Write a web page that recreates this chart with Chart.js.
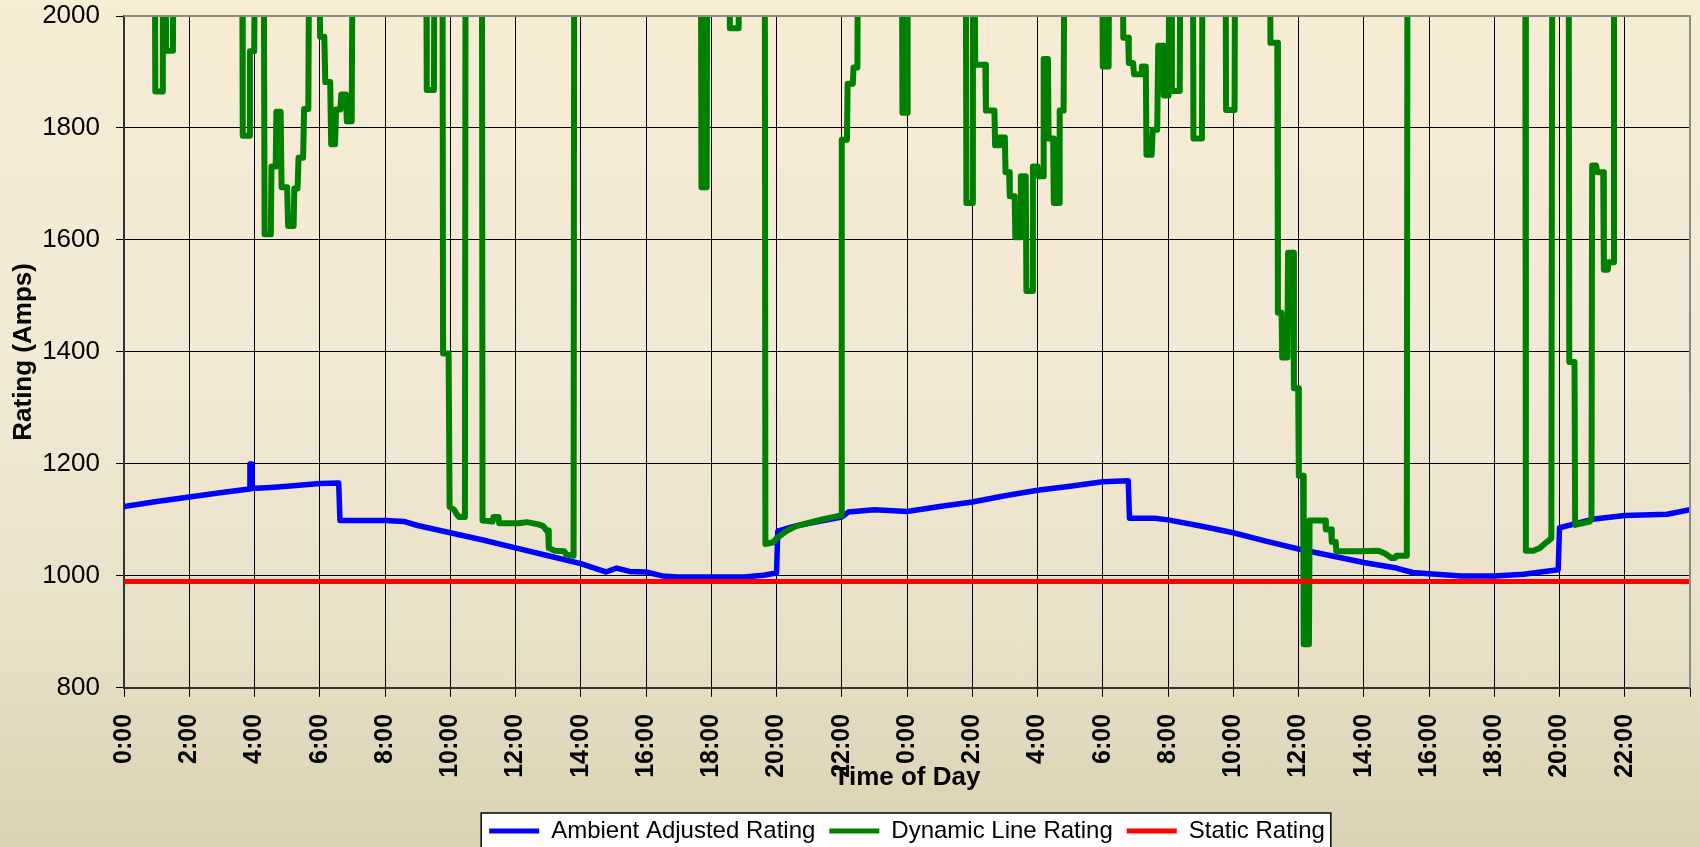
<!DOCTYPE html>
<html>
<head>
<meta charset="utf-8">
<script src="https://cdn.jsdelivr.net/npm/chart.js@4.4.1/dist/chart.umd.min.js"></script>
<style>
  body { margin: 0; }
  #wrap {
    width: 1700px; height: 847px; position: relative;
    background: linear-gradient(to bottom, #f7ecd4 0%, #f2e9d5 45%, #e9e0c8 75%, #dbd1b3 100%);
  }
</style>
</head>
<body>
<div id="wrap"><canvas id="rating_chart"></canvas></div>
<script>
// hours from the start of the first day; 2200 = off the top of the chart
const ambientHours = [0, 1, 2, 3, 3.84, 3.86, 3.9, 3.92, 4.5, 5, 6, 6.58, 6.62, 7.5, 8, 8.6, 9, 10, 11, 12, 13, 14, 14.77, 15.1, 15.5, 16, 16.5, 17, 18, 19, 19.6, 20, 20.04, 20.5, 21, 22, 22.2, 23, 24,
    25, 26, 27, 28, 29, 30, 30.78, 30.82, 31.6, 32, 33, 34, 35, 36, 37, 38, 39, 39.5, 40, 41, 42, 42.9, 43.96, 44, 45, 46, 47.3, 48];
const ambientAmps = [1124, 1133, 1141, 1149, 1155, 1200, 1200, 1156, 1158, 1160, 1165, 1166, 1099, 1099, 1099, 1097, 1090, 1077, 1064, 1050, 1036, 1022, 1007, 1014, 1008, 1007, 1000, 998, 998, 998, 1001, 1005, 1080, 1088, 1094, 1105, 1114, 1118, 1115,
    1124, 1132, 1143, 1153, 1160, 1168, 1170, 1103, 1103, 1100, 1089, 1077, 1062, 1048, 1036, 1024, 1014, 1006, 1004, 1000, 1000, 1003, 1011, 1086, 1101, 1108, 1110, 1118];

const dynamicHours = [0, 0.94, 0.96, 1.17, 1.19, 1.27, 1.29, 1.5, 1.52, 3.62, 3.64, 3.84, 3.86, 3.99, 4.02, 4.28, 4.31, 4.5, 4.52, 4.65, 4.67, 4.8, 4.83, 5, 5.03, 5.2, 5.22, 5.32, 5.35, 5.49, 5.52, 5.65, 5.68,
    5.98, 6.01, 6.14, 6.17, 6.32, 6.35, 6.47, 6.5, 6.63, 6.66, 6.8, 6.83, 6.98, 7.01, 9.26, 9.28, 9.5, 9.52, 9.76, 9.78, 9.95, 9.98, 10.12, 10.2, 10.27, 10.45, 10.47,
    10.97, 10.99, 11.3, 11.32, 11.48, 11.5, 12.1, 12.35, 12.7, 12.85, 12.95, 13, 13.02, 13.2, 13.5, 13.55, 13.78, 13.8, 17.68, 17.7, 17.86, 17.88, 18.55, 18.57, 18.84, 18.86,
    19.64, 19.66, 19.9, 20, 20.3, 20.6, 20.95, 21.4, 21.98, 22, 22.16, 22.18, 22.34, 22.36, 22.48, 22.5, 23.84, 23.86, 24, 24.02,
    25.8, 25.82, 26, 26.02, 26.07, 26.09, 26.4, 26.42, 26.68, 26.7, 26.82, 26.84, 27, 27.02, 27.13, 27.15, 27.3, 27.32, 27.47, 27.49, 27.64, 27.66, 27.84, 27.86, 28, 28.02, 28.17, 28.19, 28.32, 28.34, 28.48, 28.5, 28.66, 28.68, 28.8, 28.83,
    29.98, 30, 30.18, 30.2, 30.6, 30.63, 30.78, 30.8, 30.93, 30.96, 31.18, 31.2, 31.32, 31.34, 31.5, 31.53, 31.67, 31.7, 31.85, 31.87, 32.02, 32.04,
    32.1, 32.12, 32.36, 32.38, 32.76, 32.78, 33.04, 33.06, 33.76, 33.78, 34.04, 34.06,
    35.12, 35.14, 35.35, 35.37, 35.48, 35.5, 35.66, 35.68, 35.84, 35.86, 35.99, 36.01, 36.14, 36.16, 36.32, 36.34, 36.82, 36.84, 37, 37.02, 37.14, 37.16, 37.9, 38.45, 38.65, 38.85, 38.96, 39, 39.32, 39.34,
    42.95, 42.97, 43.2, 43.4, 43.6, 43.75, 43.78, 44.28, 44.3, 44.46, 44.48, 44.93, 44.98, 45, 45.12, 45.16, 45.34, 45.36, 45.48, 45.5, 45.64, 45.67, 48];
const dynamicAmps = [2200, 2200, 1865, 1865, 2200, 2200, 1938, 1938, 2200, 2200, 1786, 1786, 1937, 1937, 2200, 2200, 1610, 1610, 1731, 1731, 1829, 1829, 1694, 1694, 1625, 1625, 1692, 1692, 1747, 1747, 1834, 1834, 2200,
    2200, 1963, 1963, 1882, 1882, 1771, 1771, 1833, 1833, 1860, 1860, 1812, 1812, 2200, 2200, 1868, 1868, 2200, 2200, 1397, 1397, 1123, 1118, 1110, 1105, 1105, 2200,
    2200, 1099, 1097, 1105, 1105, 1094, 1094, 1096, 1092, 1089, 1081, 1081, 1050, 1045, 1044, 1038, 1036, 2200, 2200, 1694, 1694, 2200, 2200, 1978, 1978, 2200,
    2200, 1057, 1060, 1067, 1080, 1089, 1094, 1101, 1108, 1779, 1779, 1879, 1879, 1908, 1908, 2200, 2200, 1827, 1827, 2200,
    2200, 1666, 1666, 2200, 2200, 1913, 1913, 1831, 1831, 1769, 1769, 1783, 1783, 1721, 1721, 1678, 1678, 1605, 1605, 1714, 1714, 1509, 1509, 1731, 1731, 1714, 1714, 1923, 1923, 1781, 1781, 1666, 1666, 1831, 1831, 2200,
    2200, 1910, 1910, 2200, 2200, 1961, 1961, 1916, 1916, 1896, 1896, 1910, 1910, 1752, 1752, 1797, 1797, 1947, 1947, 1858, 1858, 2200,
    2200, 1866, 1866, 2200, 2200, 1781, 1781, 2200, 2200, 1832, 1832, 2200,
    2200, 1952, 1952, 1470, 1470, 1390, 1390, 1577, 1577, 1335, 1335, 1179, 1179, 878, 878, 1099, 1099, 1083, 1083, 1061, 1061, 1044, 1044, 1045, 1040, 1032, 1032, 1036, 1036, 2200,
    2200, 1045, 1045, 1050, 1060, 1067, 2200, 2200, 1382, 1382, 1091, 1097, 1101, 1733, 1733, 1721, 1721, 1547, 1547, 1560, 1560, 2200, 2200];

const staticHours = [0, 48];
const staticAmps = [990, 990];

const toPoints = (hours, amps) => hours.map((h, i) => ({ x: h, y: amps[i] }));

const font = 'Liberation Sans, Arial, sans-serif';

// white legend box with a thin black frame, grey top/right plot border
const framePlugin = {
    id: 'frame',
    beforeDraw(chart) {
        const boxes = chart.legend.legendHitBoxes;
        if (!boxes || !boxes.length) return;
        const left = Math.min(...boxes.map(b => b.left)) - 8;
        const right = Math.max(...boxes.map(b => b.left + b.width)) + 6;
        const top = boxes[0].top - 6;
        const bottom = boxes[0].top + boxes[0].height + 6;
        const ctx = chart.ctx;
        ctx.save();
        ctx.fillStyle = '#ffffff';
        ctx.fillRect(left, top, right - left, bottom - top);
        ctx.strokeStyle = '#000000';
        ctx.lineWidth = 1.5;
        ctx.strokeRect(left, top, right - left, bottom - top);
        ctx.restore();
    },
    afterDraw(chart) {
        const a = chart.chartArea;
        const ctx = chart.ctx;
        ctx.save();
        ctx.strokeStyle = '#8a8a8a';
        ctx.lineWidth = 2;
        ctx.beginPath();
        ctx.moveTo(a.left, a.top);
        ctx.lineTo(a.right, a.top);
        ctx.lineTo(a.right, a.bottom);
        ctx.stroke();
        ctx.restore();
    }
};

const ctx = document.getElementById('rating_chart').getContext('2d');

new Chart(ctx, {
    type: 'line',
    data: {
        datasets: [{
            label: 'Ambient Adjusted Rating',
            data: toPoints(ambientHours, ambientAmps),
            borderColor: '#0000ff',
            backgroundColor: '#0000ff',
            borderWidth: 5.5,
            order: 2
        }, {
            label: 'Dynamic Line Rating',
            data: toPoints(dynamicHours, dynamicAmps),
            borderColor: '#008000',
            backgroundColor: '#008000',
            borderWidth: 6,
            clip: 0,
            order: 1
        }, {
            label: 'Static Rating',
            data: toPoints(staticHours, staticAmps),
            borderColor: '#ff0000',
            backgroundColor: '#ff0000',
            borderWidth: 5,
            order: 0
        }]
    },
    options: {
        responsive: true,
        maintainAspectRatio: false,
        animation: false,
        elements: {
            point: { radius: 0 },
            line: { tension: 0, fill: false, borderJoinStyle: 'round', borderCapStyle: 'round' }
        },
        layout: { padding: { top: 16, right: 10, left: 8, bottom: -6 } },
        scales: {
            x: {
                type: 'linear',
                min: 0,
                max: 48,
                ticks: {
                    stepSize: 2,
                    autoSkip: false,
                    maxRotation: 90,
                    minRotation: 90,
                    padding: 17,
                    color: '#000',
                    font: { family: font, size: 25, weight: 'bold' },
                    callback: v => v >= 48 ? '' : (v % 24) + ':00'
                },
                grid: { color: '#000', lineWidth: 1, tickLength: 9 },
                border: { color: '#333', width: 2 },
                title: {
                    display: true,
                    text: 'Time of Day',
                    color: '#000',
                    font: { family: font, size: 26, weight: 'bold' },
                    padding: { top: -33, bottom: 12 }
                },
                afterFit: scale => { scale.paddingLeft = 0; scale.paddingRight = 0; }
            },
            y: {
                min: 800,
                max: 2000,
                ticks: {
                    stepSize: 200,
                    padding: 16,
                    color: '#000',
                    font: { family: font, size: 26 },
                    callback: v => String(v)
                },
                grid: { color: '#000', lineWidth: 1, tickLength: 8 },
                border: { color: '#333', width: 2 },
                title: {
                    display: true,
                    text: 'Rating (Amps)',
                    color: '#000',
                    font: { family: font, size: 26, weight: 'bold' },
                    padding: { top: 0, bottom: 0 }
                },
                afterFit: scale => { scale.width = 116; scale.paddingTop = 0; scale.paddingBottom = 0; }
            }
        },
        plugins: {
            legend: {
                position: 'bottom',
                fullSize: false,
                labels: {
                    boxWidth: 50,
                    boxHeight: 5,
                    padding: 14,
                    color: '#000',
                    font: { family: font, size: 24 },
                    sort: (a, b) => a.datasetIndex - b.datasetIndex,
                    generateLabels: chart => {
                        const items = Chart.defaults.plugins.legend.labels.generateLabels(chart);
                        items.forEach(it => { it.lineWidth = 0; it.fillStyle = it.strokeStyle; });
                        return items;
                    }
                }
            },
            tooltip: { enabled: false }
        }
    },
    plugins: [framePlugin]
});
</script>
</body>
</html>
